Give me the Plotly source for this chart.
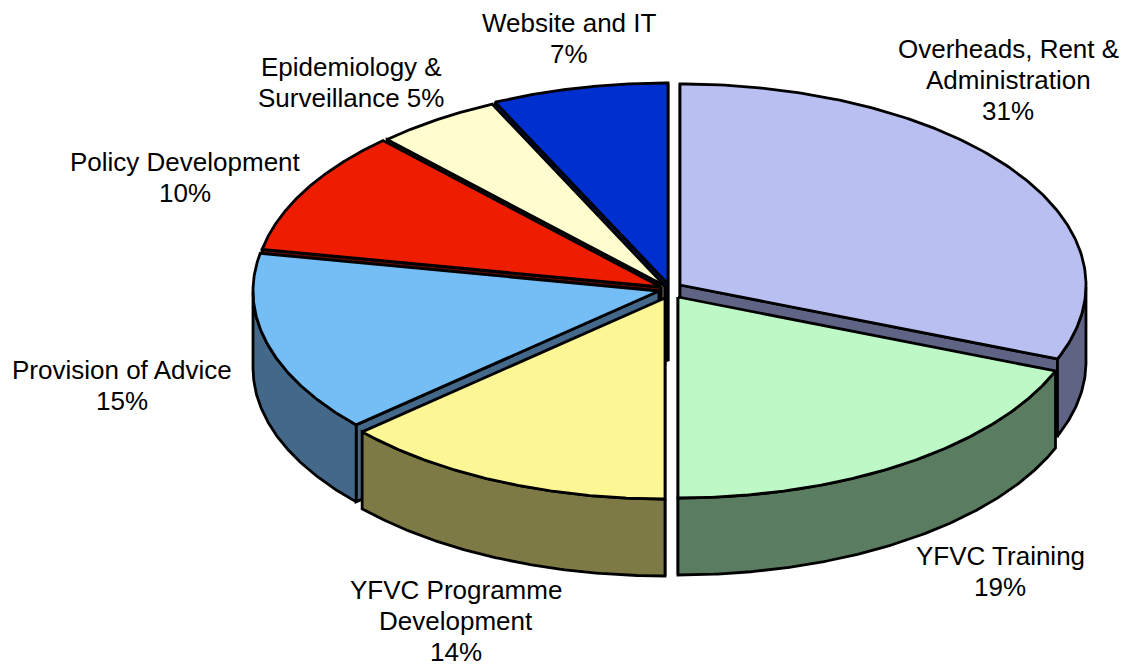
import numpy as np
import plotly.graph_objects as go

# Data
categories = ["Overheads, Rent & Administration", "YFVC Training", "YFVC Programme Development",
              "Provision of Advice", "Policy Development", "Epidemiology & Surveillance", "Website and IT"]
# slice shares (the printed labels are rounded and add up to 101)
shares = [31, 19, 13.4, 14.6, 10.0, 5.0, 7.0]
label_lines = [["Overheads, Rent &", "Administration", "31%"], ["YFVC Training", "19%"],
               ["YFVC Programme", "Development", "14%"], ["Provision of Advice", "15%"],
               ["Policy Development", "10%"], ["Epidemiology &", "Surveillance 5%"], ["Website and IT", "7%"]]

# Styling / layout
top_colors = ["#b9bff1", "#bef8c6", "#fdf695", "#74bdf5", "#ee1d00", "#fffccd", "#002fd0"]
wall_colors = ["#5f6485", "#5a7c60", "#7e7a45", "#43688a", "#5a0c00", "#66664a", "#001a70"]
centers = [(680, 285), (678, 297), (665, 298), (659, 291), (661, 287), (665, 286), (668, 284)]
label_pos = [(1008, 80), (1000, 571), (456, 621), (122, 385), (185, 177), (351, 82), (569, 38)]
RX, RY, DEPTH = 406, 201, 77
LW = 2.8
LINE_GAP = 31
draw_order = [6, 5, 4, 0, 3, 1, 2]

edges = np.cumsum([0] + shares) / sum(shares) * 2 * np.pi
fig = go.Figure()


def poly(xs, ys, color):
    fig.add_trace(go.Scatter(x=xs, y=ys, mode="lines", fill="toself", fillcolor=color,
                             line=dict(color="black", width=LW), hoverinfo="skip", showlegend=False))


for i in draw_order:
    cx, cy = centers[i]
    a0, a1 = edges[i], edges[i + 1]
    t = np.linspace(a0, a1, 160)
    ax = cx + RX * np.sin(t)
    ay = cy - RY * np.cos(t)
    # radial walls, only those facing the viewer
    for a, visible in ((a0, np.sin(a0) < 1e-9), (a1, np.sin(a1) > -1e-9)):
        if visible:
            ex, ey = cx + RX * np.sin(a), cy - RY * np.cos(a)
            poly([cx, ex, ex, cx, cx], [cy, ey, ey + DEPTH, cy + DEPTH, cy], wall_colors[i])
    # outer wall (front-facing part only)
    mask = np.cos(t) <= 0
    if mask.any():
        wx, wy = ax[mask], ay[mask]
        poly(np.r_[wx, wx[::-1], wx[0]], np.r_[wy, wy[::-1] + DEPTH, wy[0]], wall_colors[i])
    # top face
    poly(np.r_[cx, ax, cx], np.r_[cy, ay, cy], top_colors[i])

for lines, (x, y) in zip(label_lines, label_pos):
    for k, line in enumerate(lines):
        fig.add_annotation(x=x, y=y + (k - (len(lines) - 1) / 2) * LINE_GAP, text=line, showarrow=False,
                           xanchor="center", yanchor="middle",
                           font=dict(family="Liberation Sans", size=26, color="black"))

fig.update_layout(width=1125, height=666, margin=dict(l=0, r=0, t=0, b=0),
                  paper_bgcolor="white", plot_bgcolor="white", showlegend=False,
                  xaxis=dict(range=[0, 1125], visible=False, fixedrange=True),
                  yaxis=dict(range=[666, 0], visible=False, fixedrange=True))
fig.write_html("out.html", config={"displayModeBar": False}, post_script="document.body.style.margin='0';")
